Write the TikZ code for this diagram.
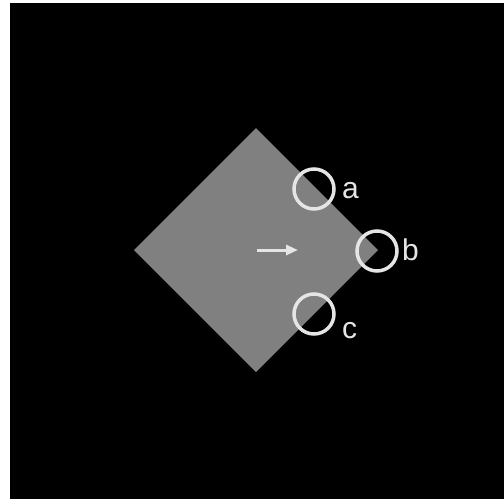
\documentclass[tikz,border=0pt]{standalone}
\usepackage{fontspec}
\setmainfont{Liberation Sans}
\usetikzlibrary{arrows.meta}
\definecolor{plategray}{gray}{0.5}
\definecolor{ringgray}{gray}{0.9}
\tikzset{
  hole/.style={
    shape = circle,
    draw = ringgray,
    line width = 3.5pt,
    minimum size = 40pt,
    inner sep = 0pt
  },
  tag/.style={
    text = ringgray,
    anchor = base west,
    inner sep = 0pt,
    font = \fontsize{30}{36}\selectfont
  },
  push/.style={
    draw = ringgray,
    line width = 3pt,
    -{Triangle[length=12pt,width=10pt]}
  }
}
\begin{document}
\begin{tikzpicture}[x=1pt,y=-1pt]
        \useasboundingbox (0,0) rectangle (504,501);
        \fill[black] (10,3) rectangle (504,499);
        \fill[plategray] (256,128)--(378,250)--(256,372)--(134,250)--cycle;
        \coordinate (tail) at (257,250);
        \coordinate (head) at (298,250);
        \draw[push] (tail)--(head);
        \node[hole] (a) at (314,189) {};
        \node[hole] (b) at (377,251) {};
        \node[hole] (c) at (314,314) {};
        \node[tag] (la) at (342,198) {a};
        \node[tag] (lb) at (402,260) {b};
        \node[tag] (lc) at (342,338) {c};
    \end{tikzpicture}
\end{document}
